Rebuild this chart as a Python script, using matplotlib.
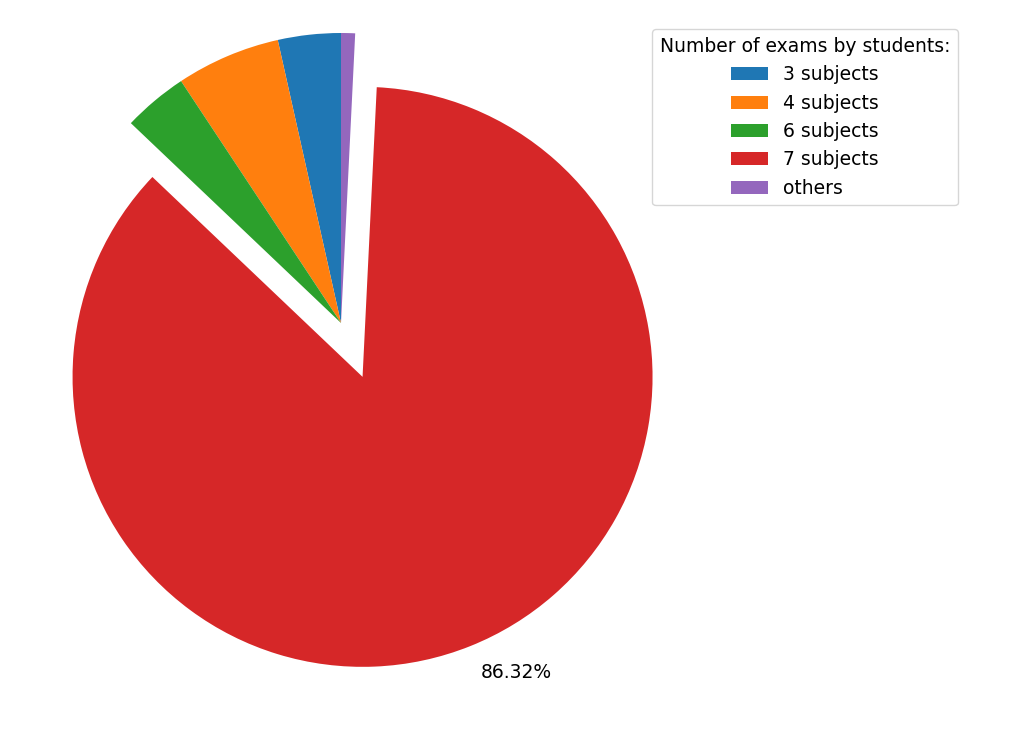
import matplotlib
matplotlib.use("Agg")
import matplotlib.pyplot as plt

categories = ['3 subjects', '4 subjects', '6 subjects', '7 subjects', 'others']
shares = [3.5, 5.8, 3.6, 86.32, 0.78]
wedge_labels = ['', '', '', '86.32%', '']
explode = [0, 0, 0, 0.2, 0]

fig = plt.figure(figsize=(10.23, 7.31), dpi=100)
ax = fig.add_axes([0, 0, 1, 1])
wedges, texts = ax.pie(shares, labels=wedge_labels, explode=explode,
                       startangle=90, labeldistance=1.1,
                       textprops={'fontsize': 13.5})
ax.set_xlim(-341 / 290, (1023 - 341) / 290)
ax.set_ylim(-408 / 290, 323 / 290)
ax.set_aspect('equal')
ax.axis('off')

ax.legend(wedges, categories, title='Number of exams by students:',
          loc='upper right', bbox_to_anchor=(967 / 1023, 1 - 20 / 731),
          bbox_transform=fig.transFigure, fontsize=13.5, title_fontsize=13.5)

fig.savefig('out.png', dpi=100)
